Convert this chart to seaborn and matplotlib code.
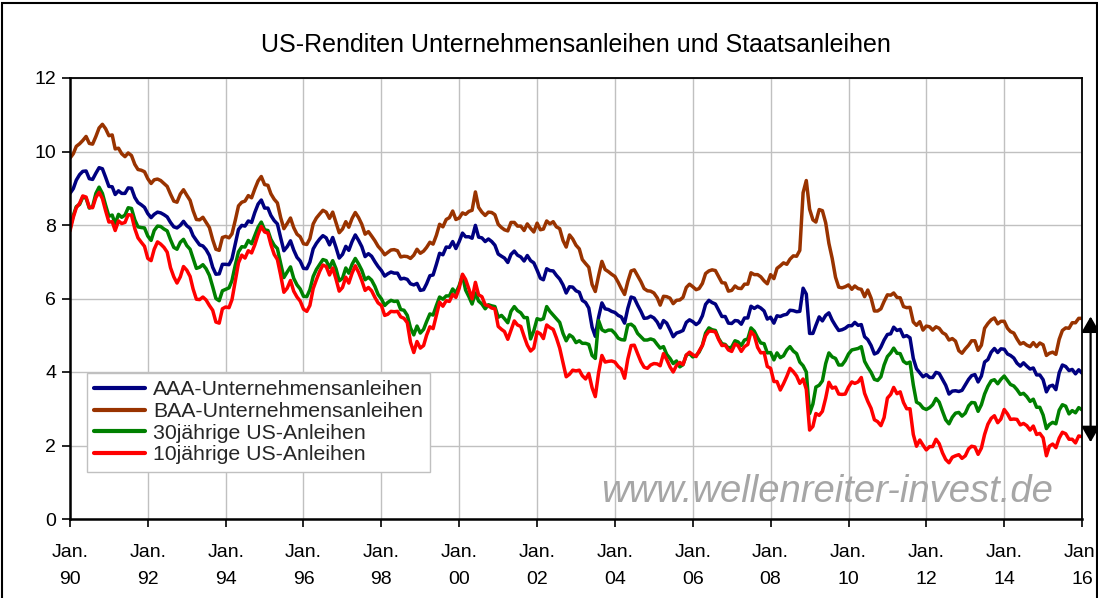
import numpy as np
import pandas as pd
import matplotlib
matplotlib.use("Agg")
import matplotlib.pyplot as plt
import seaborn as sns
from matplotlib.lines import Line2D
from matplotlib.patches import Rectangle

# ── Data (monthly yields in %, first value at Jan. 90) ───────────────
aaa = [8.86,
       8.99, 9.22, 9.37, 9.46, 9.47, 9.26, 9.24, 9.41, 9.56, 9.53, 9.30, 9.05,
       9.04, 8.83, 8.93, 8.86, 8.86, 9.01, 9.00, 8.75, 8.61, 8.55, 8.48, 8.31,
       8.20, 8.29, 8.35, 8.33, 8.28, 8.22, 8.07, 7.95, 7.92, 7.99, 8.10, 7.98,
       7.91, 7.71, 7.58, 7.46, 7.43, 7.33, 7.17, 6.85, 6.66, 6.67, 6.93, 6.93,
       6.92, 7.08, 7.48, 7.88, 7.99, 7.97, 8.11, 8.07, 8.34, 8.57, 8.68, 8.46,
       8.46, 8.26, 8.12, 8.03, 7.65, 7.30, 7.41, 7.57, 7.32, 7.12, 7.02, 6.82,
       6.81, 6.99, 7.35, 7.50, 7.62, 7.71, 7.65, 7.46, 7.66, 7.39, 7.10, 7.20,
       7.42, 7.31, 7.55, 7.73, 7.58, 7.41, 7.14, 7.22, 7.15, 7.00, 6.87, 6.76,
       6.61, 6.67, 6.72, 6.69, 6.69, 6.53, 6.55, 6.52, 6.40, 6.37, 6.41, 6.22,
       6.24, 6.40, 6.62, 6.64, 6.93, 7.23, 7.19, 7.40, 7.39, 7.55, 7.36, 7.55,
       7.78, 7.68, 7.68, 7.64, 7.99, 7.67, 7.65, 7.55, 7.62, 7.55, 7.45, 7.21,
       7.15, 7.10, 6.98, 7.20, 7.29, 7.18, 7.13, 7.02, 7.17, 7.03, 6.97, 6.77,
       6.55, 6.51, 6.81, 6.76, 6.75, 6.63, 6.53, 6.37, 6.15, 6.32, 6.31, 6.21,
       6.17, 5.95, 5.89, 5.74, 5.22, 4.97, 5.49, 5.88, 5.72, 5.70, 5.65, 5.62,
       5.54, 5.50, 5.33, 5.73, 6.04, 6.01, 5.82, 5.65, 5.46, 5.47, 5.52, 5.47,
       5.36, 5.20, 5.40, 5.33, 5.15, 4.96, 5.06, 5.09, 5.13, 5.35, 5.42, 5.37,
       5.29, 5.35, 5.53, 5.84, 5.95, 5.89, 5.85, 5.68, 5.51, 5.51, 5.33, 5.32,
       5.40, 5.39, 5.30, 5.47, 5.47, 5.79, 5.73, 5.79, 5.74, 5.66, 5.44, 5.49,
       5.33, 5.53, 5.51, 5.55, 5.57, 5.68, 5.67, 5.64, 5.65, 6.28, 6.12, 5.05,
       5.05, 5.27, 5.50, 5.39, 5.54, 5.61, 5.41, 5.26, 5.13, 5.15, 5.19, 5.26,
       5.26, 5.35, 5.27, 5.29, 4.96, 4.88, 4.72, 4.49, 4.53, 4.68, 4.87, 5.02,
       5.04, 5.22, 5.13, 5.16, 4.96, 4.99, 4.93, 4.37, 4.09, 3.98, 3.87, 3.93,
       3.85, 3.85, 3.99, 3.96, 3.80, 3.64, 3.40, 3.48, 3.49, 3.47, 3.50, 3.65,
       3.80, 3.90, 3.93, 3.73, 3.89, 4.27, 4.34, 4.54, 4.64, 4.53, 4.63, 4.62,
       4.49, 4.45, 4.38, 4.24, 4.16, 4.25, 4.16, 4.08, 4.11, 3.92, 3.92, 3.79,
       3.46, 3.61, 3.64, 3.52, 3.98, 4.19, 4.15, 4.04, 4.07, 3.95, 4.06, 3.97]

baa = [9.82,
       9.94, 10.14, 10.21, 10.30, 10.41, 10.22, 10.20, 10.41, 10.64, 10.74, 10.62, 10.43,
       10.45, 10.07, 10.09, 9.94, 9.86, 9.96, 9.89, 9.65, 9.51, 9.49, 9.45, 9.26,
       9.13, 9.23, 9.25, 9.21, 9.13, 9.05, 8.84, 8.65, 8.62, 8.84, 8.96, 8.81,
       8.67, 8.39, 8.15, 8.14, 8.21, 8.07, 7.93, 7.60, 7.34, 7.31, 7.66, 7.69,
       7.65, 7.76, 8.13, 8.52, 8.62, 8.65, 8.80, 8.74, 8.98, 9.20, 9.32, 9.10,
       9.08, 8.85, 8.70, 8.60, 8.20, 7.90, 8.04, 8.19, 7.93, 7.75, 7.68, 7.49,
       7.47, 7.63, 8.03, 8.19, 8.30, 8.40, 8.35, 8.18, 8.35, 8.07, 7.79, 7.89,
       8.09, 7.94, 8.18, 8.34, 8.20, 8.02, 7.75, 7.82, 7.70, 7.57, 7.42, 7.32,
       7.19, 7.25, 7.32, 7.33, 7.30, 7.13, 7.15, 7.14, 7.09, 7.18, 7.34, 7.23,
       7.29, 7.39, 7.53, 7.48, 7.72, 8.02, 7.95, 8.15, 8.20, 8.38, 8.15, 8.19,
       8.33, 8.29, 8.37, 8.40, 8.90, 8.48, 8.35, 8.26, 8.35, 8.34, 8.28, 8.02,
       7.93, 7.87, 7.84, 8.07, 8.07, 7.97, 7.97, 7.85, 8.03, 7.91, 7.81, 8.05,
       7.87, 7.89, 8.11, 8.03, 8.09, 7.95, 7.90, 7.58, 7.40, 7.73, 7.62, 7.45,
       7.35, 7.06, 6.95, 6.85, 6.38, 6.19, 6.62, 7.01, 6.79, 6.73, 6.66, 6.60,
       6.44, 6.27, 6.11, 6.46, 6.75, 6.78, 6.62, 6.46, 6.27, 6.21, 6.20, 6.15,
       6.02, 5.82, 6.06, 6.05, 6.01, 5.86, 5.95, 5.96, 6.03, 6.30, 6.39, 6.32,
       6.24, 6.27, 6.41, 6.68, 6.75, 6.78, 6.76, 6.59, 6.43, 6.42, 6.20, 6.22,
       6.34, 6.28, 6.27, 6.39, 6.39, 6.70, 6.65, 6.65, 6.59, 6.48, 6.40, 6.65,
       6.54, 6.82, 6.89, 6.97, 6.93, 7.07, 7.16, 7.15, 7.31, 8.88, 9.21, 8.43,
       8.14, 8.08, 8.42, 8.39, 8.06, 7.50, 7.09, 6.58, 6.31, 6.29, 6.32, 6.37,
       6.25, 6.34, 6.27, 6.25, 6.05, 6.23, 6.01, 5.66, 5.66, 5.72, 5.92, 6.10,
       6.09, 6.15, 6.03, 6.02, 5.78, 5.75, 5.76, 5.36, 5.27, 5.37, 5.14, 5.25,
       5.23, 5.14, 5.23, 5.19, 5.07, 5.02, 4.87, 4.91, 4.84, 4.58, 4.51, 4.63,
       4.73, 4.85, 4.85, 4.59, 4.73, 5.19, 5.32, 5.42, 5.47, 5.31, 5.38, 5.38,
       5.19, 5.10, 5.06, 4.90, 4.76, 4.80, 4.73, 4.69, 4.80, 4.69, 4.79, 4.74,
       4.45, 4.51, 4.54, 4.48, 4.89, 5.13, 5.20, 5.19, 5.34, 5.34, 5.46, 5.46]

us30 = [7.90,
        8.26, 8.50, 8.56, 8.76, 8.73, 8.46, 8.50, 8.86, 9.03, 8.86, 8.54, 8.24,
        8.27, 8.03, 8.29, 8.21, 8.27, 8.47, 8.45, 8.14, 7.95, 7.93, 7.92, 7.70,
        7.58, 7.85, 7.97, 7.96, 7.89, 7.84, 7.60, 7.39, 7.34, 7.53, 7.61, 7.44,
        7.34, 7.09, 6.82, 6.85, 6.92, 6.81, 6.63, 6.32, 6.00, 5.94, 6.21, 6.25,
        6.29, 6.49, 6.91, 7.27, 7.41, 7.40, 7.58, 7.49, 7.71, 7.94, 8.08, 7.87,
        7.85, 7.61, 7.45, 7.36, 6.95, 6.57, 6.72, 6.86, 6.55, 6.37, 6.26, 6.06,
        6.05, 6.24, 6.60, 6.79, 6.93, 7.06, 7.03, 6.84, 7.03, 6.81, 6.48, 6.55,
        6.83, 6.69, 6.93, 7.09, 6.94, 6.77, 6.51, 6.58, 6.50, 6.33, 6.11, 5.99,
        5.81, 5.89, 5.95, 5.92, 5.93, 5.70, 5.68, 5.54, 5.20, 5.01, 5.25, 5.06,
        5.16, 5.37, 5.58, 5.55, 5.81, 6.04, 5.98, 6.07, 6.07, 6.26, 6.15, 6.35,
        6.63, 6.23, 6.05, 5.85, 6.15, 5.93, 5.85, 5.72, 5.83, 5.80, 5.78, 5.49,
        5.54, 5.45, 5.34, 5.65, 5.78, 5.67, 5.61, 5.48, 5.48, 4.90, 5.12, 5.45,
        5.42, 5.45, 5.78, 5.65, 5.55, 5.45, 5.35, 5.05, 4.85, 5.01, 4.95, 4.80,
        4.85, 4.78, 4.78, 4.75, 4.45, 4.37, 5.40, 5.15, 5.10, 5.14, 5.14, 5.05,
        4.92, 4.88, 4.87, 5.28, 5.30, 5.23, 5.05, 4.96, 4.87, 4.87, 4.90, 4.87,
        4.75, 4.65, 4.69, 4.48, 4.37, 4.23, 4.30, 4.14, 4.20, 4.46, 4.50, 4.41,
        4.45, 4.54, 4.73, 5.06, 5.20, 5.15, 5.13, 4.91, 4.77, 4.75, 4.65, 4.68,
        4.85, 4.82, 4.72, 4.87, 4.90, 5.20, 5.11, 4.93, 4.79, 4.77, 4.52, 4.53,
        4.33, 4.52, 4.39, 4.44, 4.60, 4.69, 4.57, 4.50, 4.27, 4.17, 4.00, 2.87,
        3.13, 3.59, 3.64, 3.76, 4.23, 4.52, 4.41, 4.37, 4.19, 4.19, 4.31, 4.49,
        4.60, 4.62, 4.64, 4.69, 4.29, 4.13, 3.99, 3.80, 3.77, 3.87, 4.19, 4.42,
        4.52, 4.65, 4.51, 4.50, 4.29, 4.23, 4.27, 3.65, 3.18, 3.13, 3.02, 2.98,
        3.03, 3.11, 3.28, 3.18, 2.93, 2.70, 2.59, 2.77, 2.88, 2.90, 2.80, 2.88,
        3.08, 3.17, 3.16, 2.93, 3.11, 3.40, 3.61, 3.76, 3.79, 3.68, 3.80, 3.89,
        3.77, 3.66, 3.62, 3.52, 3.39, 3.42, 3.33, 3.20, 3.26, 3.04, 3.04, 2.83,
        2.46, 2.57, 2.63, 2.59, 2.96, 3.11, 3.07, 2.86, 2.95, 2.89, 3.03, 2.97]

us10 = [7.84,
        8.21, 8.47, 8.59, 8.79, 8.76, 8.48, 8.47, 8.75, 8.89, 8.72, 8.39, 8.08,
        8.09, 7.85, 8.11, 8.04, 8.07, 8.28, 8.27, 7.90, 7.65, 7.53, 7.42, 7.09,
        7.03, 7.34, 7.54, 7.48, 7.39, 7.26, 6.84, 6.59, 6.42, 6.59, 6.87, 6.77,
        6.60, 6.26, 5.98, 5.97, 6.04, 5.96, 5.81, 5.68, 5.36, 5.33, 5.72, 5.77,
        5.75, 5.97, 6.48, 6.97, 7.18, 7.10, 7.30, 7.24, 7.46, 7.74, 7.96, 7.81,
        7.78, 7.47, 7.20, 7.06, 6.63, 6.17, 6.28, 6.49, 6.20, 6.04, 5.93, 5.71,
        5.65, 5.81, 6.27, 6.51, 6.74, 6.91, 6.87, 6.64, 6.83, 6.53, 6.20, 6.30,
        6.58, 6.42, 6.69, 6.89, 6.71, 6.49, 6.22, 6.30, 6.21, 6.03, 5.88, 5.81,
        5.54, 5.57, 5.65, 5.64, 5.65, 5.50, 5.46, 5.34, 4.81, 4.53, 4.83, 4.65,
        4.72, 5.00, 5.23, 5.18, 5.54, 5.90, 5.79, 5.94, 5.92, 6.11, 6.03, 6.28,
        6.66, 6.52, 6.26, 5.99, 6.44, 6.10, 6.05, 5.83, 5.80, 5.74, 5.72, 5.24,
        5.16, 5.10, 4.89, 5.14, 5.39, 5.28, 5.24, 4.97, 4.73, 4.57, 4.65, 5.09,
        5.04, 4.91, 5.28, 5.21, 5.16, 4.93, 4.65, 4.26, 3.87, 3.94, 4.05, 4.03,
        4.05, 3.90, 3.81, 3.96, 3.57, 3.33, 3.98, 4.45, 4.27, 4.29, 4.30, 4.27,
        4.15, 4.08, 3.83, 4.35, 4.72, 4.73, 4.50, 4.28, 4.13, 4.10, 4.19, 4.23,
        4.22, 4.17, 4.50, 4.34, 4.14, 4.00, 4.18, 4.26, 4.20, 4.46, 4.54, 4.47,
        4.42, 4.57, 4.72, 4.99, 5.11, 5.11, 5.09, 4.88, 4.72, 4.73, 4.60, 4.56,
        4.76, 4.72, 4.56, 4.69, 4.75, 5.10, 5.00, 4.67, 4.52, 4.53, 4.15, 4.10,
        3.74, 3.74, 3.51, 3.68, 3.88, 4.10, 4.01, 3.89, 3.69, 3.81, 3.53, 2.42,
        2.52, 2.87, 2.82, 2.93, 3.29, 3.72, 3.56, 3.59, 3.40, 3.39, 3.40, 3.59,
        3.73, 3.69, 3.73, 3.85, 3.42, 3.20, 3.01, 2.70, 2.65, 2.54, 2.76, 3.29,
        3.39, 3.58, 3.41, 3.46, 3.17, 3.00, 3.00, 2.30, 1.98, 2.15, 2.01, 1.88,
        1.97, 1.97, 2.17, 2.05, 1.80, 1.62, 1.53, 1.68, 1.72, 1.75, 1.65, 1.72,
        1.91, 1.98, 1.96, 1.76, 1.93, 2.30, 2.58, 2.74, 2.81, 2.62, 2.72, 2.98,
        2.86, 2.71, 2.72, 2.71, 2.56, 2.60, 2.54, 2.42, 2.53, 2.30, 2.33, 2.21,
        1.72, 1.98, 2.04, 1.94, 2.20, 2.36, 2.32, 2.17, 2.17, 2.07, 2.26, 2.24]

series_names = ["AAA-Unternehmensanleihen", "BAA-Unternehmensanleihen",
                "30jährige US-Anleihen", "10jährige US-Anleihen"]
series_colors = ["#000080", "#993300", "#008000", "#FF0000"]
tick_years = list(range(1990, 2017, 2))
tick_labels = [f"Jan.\n{y % 100:02d}" for y in tick_years]

dates = pd.date_range("1990-01-01", periods=len(aaa), freq="MS")
df = pd.DataFrame({"Datum": dates,
                   series_names[0]: aaa, series_names[1]: baa,
                   series_names[2]: us30, series_names[3]: us10})
df = df.melt(id_vars="Datum", var_name="Serie", value_name="Rendite")

# ── Plot ──────────────────────────────────────────────────────────
sns.set_style("white")
plt.rcParams["font.family"] = ["Liberation Sans", "DejaVu Sans"]

W, H = 1098, 598
fig = plt.figure(figsize=(W / 100, H / 100), dpi=100)
ax = fig.add_axes([70 / W, 1 - 519 / H, (1082 - 70) / W, (519 - 78) / H])

sns.lineplot(data=df, x="Datum", y="Rendite", hue="Serie",
             hue_order=series_names, palette=dict(zip(series_names, series_colors)),
             linewidth=2.5, legend=False, ax=ax)

ax.set_xlim(pd.Timestamp("1990-01-01"), pd.Timestamp("2016-01-01"))
ax.set_ylim(0, 12)
ax.set_yticks(range(0, 13, 2))
ax.set_xticks([pd.Timestamp(f"{y}-01-01") for y in tick_years])
ax.set_xticklabels(tick_labels, linespacing=1.8)
ax.set_xlabel("")
ax.set_ylabel("")
ax.grid(True, color="#c0c0c0", linewidth=1)
ax.set_axisbelow(True)
for s in ax.spines.values():
    s.set_color("black")
    s.set_linewidth(1.3)
ax.spines["left"].set_linewidth(1.8)
ax.spines["bottom"].set_linewidth(1.8)
ax.tick_params(axis="both", which="major", direction="out", length=6, width=1.2,
               color="black", labelsize=14, labelcolor="black", left=True, bottom=True)
ax.tick_params(axis="x", pad=12)
ax.tick_params(axis="y", pad=4)

ax.set_title("US-Renditen Unternehmensanleihen und Staatsanleihen",
             fontsize=18, pad=19, color="black")

handles = [Line2D([0], [0], color=c, lw=3) for c in series_colors]
leg = ax.legend(handles, series_names, loc="upper left",
                bbox_to_anchor=(17 / 1012, (519 - 373) / 441),
                fontsize=15.3, frameon=True, fancybox=False, framealpha=1,
                edgecolor="#c0c0c0", handlelength=2.4, handletextpad=0.35,
                borderpad=0.35, labelspacing=0.12, borderaxespad=0)
leg.get_frame().set_linewidth(1)

ax.text(0.748, 0.062, "www.wellenreiter-invest.de", transform=ax.transAxes,
        ha="center", va="center", fontsize=27.5, style="italic", color="#a6a6a6")

# spread arrow right of the plot
ax.annotate("", xy=(1.0085, baa[-1] + 0.05), xytext=(1.0085, us10[-1] - 0.15),
            xycoords=ax.get_yaxis_transform(), textcoords=ax.get_yaxis_transform(),
            annotation_clip=False,
            arrowprops=dict(arrowstyle="<|-|>,head_length=0.95,head_width=0.55",
                            mutation_scale=10, color="black", lw=1.6,
                            shrinkA=0, shrinkB=0))

fig.patches.append(Rectangle((1.5 / W, -0.01), 1 - 3 / W, 1 - 3 / H + 0.01,
                             transform=fig.transFigure, fill=False,
                             edgecolor="black", linewidth=1.5))

fig.savefig("out.png", dpi=100)
